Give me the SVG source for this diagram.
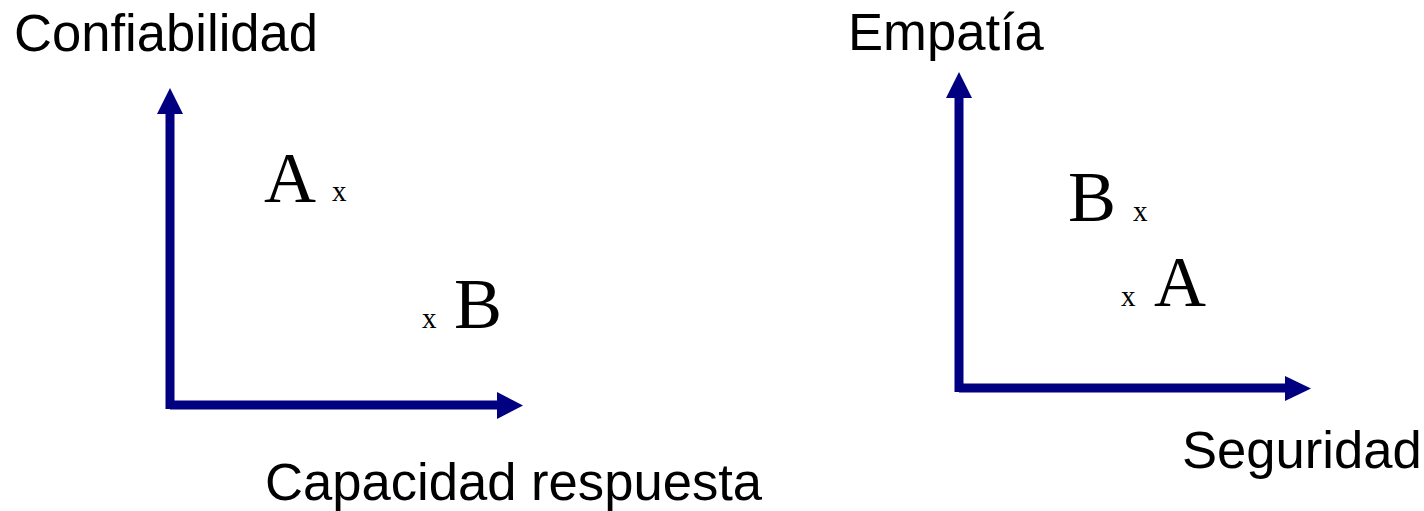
<svg xmlns="http://www.w3.org/2000/svg" width="1424" height="511" viewBox="0 0 1424 511">
<style>
.lbl{font-family:"Liberation Sans",Arial,sans-serif;font-size:52.6px;fill:#000}
.big{font-family:"Liberation Serif","Times New Roman",serif;font-size:72px;fill:#000}
.sm{font-family:"Liberation Serif","Times New Roman",serif;font-size:29px;fill:#000}
.ax{stroke:#000080;stroke-width:9;fill:none}
.hd{fill:#000080}
</style>
<rect width="1424" height="511" fill="#fff"/>
<g id="connectors">
<line class="ax" x1="170" y1="409" x2="170" y2="112"/>
<polygon class="hd" points="157,114 183,114 170,88"/>
<line class="ax" x1="170" y1="405" x2="499" y2="405"/>
<polygon class="hd" points="497,392 497,419 523,405.5"/>
<line class="ax" x1="959" y1="392" x2="959" y2="96"/>
<polygon class="hd" points="946,98 972,98 959,72"/>
<line class="ax" x1="959" y1="388" x2="1287" y2="388"/>
<polygon class="hd" points="1285,376 1285,401 1311,388.5"/>
</g>
<g id="chart1">
<text class="lbl" x="14" y="51">Confiabilidad</text>
<text class="lbl" x="265" y="500">Capacidad respuesta</text>
<text class="big" x="264" y="202">A</text>
<text class="sm" x="332" y="201">x</text>
<text class="sm" x="422" y="328">x</text>
<text class="big" x="454" y="328">B</text>
</g>
<g id="chart2">
<text class="lbl" x="848" y="50">Empatía</text>
<text class="lbl" x="1182" y="468">Seguridad</text>
<text class="big" x="1068" y="221">B</text>
<text class="sm" x="1133" y="221">x</text>
<text class="sm" x="1121" y="306">x</text>
<text class="big" x="1154" y="306">A</text>
</g>
</svg>
